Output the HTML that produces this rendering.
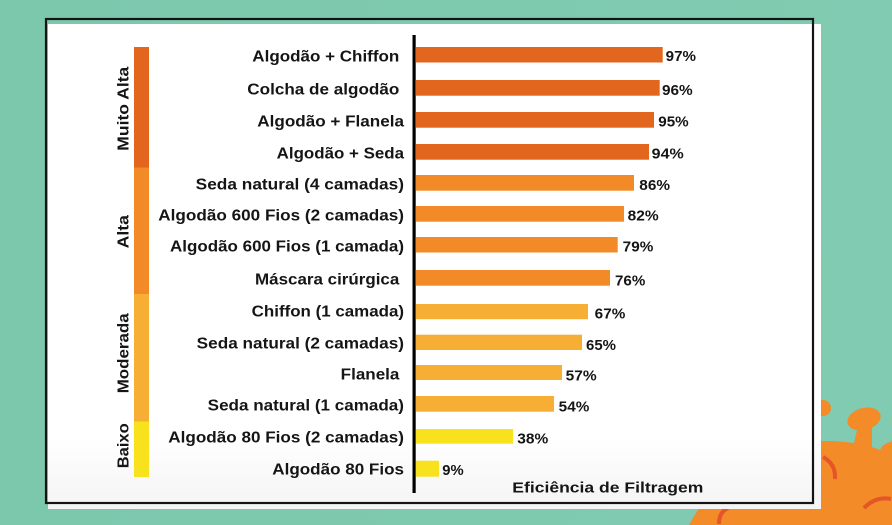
<!DOCTYPE html>
<html>
<head>
<meta charset="utf-8">
<style>
html,body{margin:0;padding:0;background:#7dc9ae;width:892px;height:525px;overflow:hidden;}
svg{display:block;}
text{font-family:"Liberation Sans",sans-serif;font-weight:700;fill:#151515;}
</style>
</head>
<body>
<svg width="892" height="525" viewBox="0 0 892 525" xmlns="http://www.w3.org/2000/svg">
  <defs>
    <linearGradient id="bg" x1="0" y1="0" x2="1" y2="0">
      <stop offset="0" stop-color="#7cc8ad"/>
      <stop offset="1" stop-color="#80cbb1"/>
    </linearGradient>
    <linearGradient id="panel" x1="0" y1="0" x2="0" y2="1">
      <stop offset="0" stop-color="#ffffff"/>
      <stop offset="0.85" stop-color="#ffffff"/>
      <stop offset="1" stop-color="#f4f4f4"/>
    </linearGradient>
  </defs>
  <rect x="0" y="0" width="892" height="525" fill="url(#bg)"/>

  <!-- virus decoration (kept inside frame) -->
  <g fill="#f28b28">
    <path d="M689,525 A157,157 0 0 1 892,454.6 L892,525 Z"/>
    <circle cx="823" cy="408" r="8"/>
    <polygon points="852,452 872,452 872,426 858,426"/>
    <ellipse cx="864" cy="419" rx="17" ry="11" transform="rotate(-15 864 419)"/>
    <polygon points="870,470 892,440 892,470"/>
    <path d="M892,442 A13,13 0 0 0 892,468 Z"/>
    <path d="M705,525 A17,17 0 0 1 739,525 Z"/>
  </g>
  <g fill="none" stroke="#e4552a" stroke-width="4" stroke-linecap="butt">
    <path d="M823,457 Q836,464 835,479"/>
    <path d="M864,508 Q876,496 891,499"/>
    <path d="M719,524 Q719,512 728,508"/>
  </g>

  <!-- white panel + frame -->
  <rect x="48" y="24" width="773" height="485" fill="url(#panel)"/>
  <rect x="46" y="19" width="767" height="484" fill="none" stroke="#141414" stroke-width="2.2"/>

  <!-- category strip -->
  <rect x="134" y="47" width="15" height="120.5" fill="#e2661e"/>
  <rect x="134" y="167.5" width="15" height="126.5" fill="#f28a28"/>
  <rect x="134" y="294" width="15" height="127.5" fill="#f6ae35"/>
  <rect x="134" y="421.5" width="15" height="55.5" fill="#f8e21e"/>

  <!-- rotated group labels -->
  <g font-size="16">
    <text transform="translate(128.3,108.7) rotate(-90)" x="-42" y="0" textLength="84" lengthAdjust="spacingAndGlyphs">Muito Alta</text>
    <text transform="translate(128.3,231.7) rotate(-90)" x="-16.7" y="0" textLength="33.3" lengthAdjust="spacingAndGlyphs">Alta</text>
    <text transform="translate(128.3,353.3) rotate(-90)" x="-40" y="0" textLength="80" lengthAdjust="spacingAndGlyphs">Moderada</text>
    <text transform="translate(128.3,445.8) rotate(-90)" x="-22.5" y="0" textLength="45" lengthAdjust="spacingAndGlyphs">Baixo</text>
  </g>

  <!-- bars -->
  <g>
    <rect x="416" y="47" width="246.7" height="15.5" fill="#e2661e"/>
    <rect x="416" y="80" width="243.7" height="15.7" fill="#e2661e"/>
    <rect x="416" y="112" width="238" height="15.7" fill="#e2661e"/>
    <rect x="416" y="144" width="233" height="15.7" fill="#e2661e"/>
    <rect x="416" y="175" width="218" height="15.7" fill="#f28a28"/>
    <rect x="416" y="206" width="208" height="15.7" fill="#f28a28"/>
    <rect x="416" y="237" width="201.7" height="15.5" fill="#f28a28"/>
    <rect x="416" y="270" width="194" height="15.7" fill="#f28a28"/>
    <rect x="416" y="304" width="172" height="15.2" fill="#f6ae35"/>
    <rect x="416" y="334.7" width="166" height="15.3" fill="#f6ae35"/>
    <rect x="416" y="365" width="146" height="15" fill="#f6ae35"/>
    <rect x="416" y="396" width="138" height="15.7" fill="#f6ae35"/>
    <rect x="416" y="429" width="97" height="14.7" fill="#f8e21e"/>
    <rect x="416" y="460.7" width="23" height="16" fill="#f8e21e"/>
  </g>

  <!-- axis line -->
  <rect x="412.5" y="35" width="3.2" height="458" fill="#000"/>

  <!-- category labels -->
  <g font-size="16">
    <text x="252.3" y="61.5" textLength="147" lengthAdjust="spacingAndGlyphs">Algodão + Chiffon</text>
    <text x="247.3" y="94.5" textLength="152" lengthAdjust="spacingAndGlyphs">Colcha de algodão</text>
    <text x="257.3" y="126.5" textLength="146.7" lengthAdjust="spacingAndGlyphs">Algodão + Flanela</text>
    <text x="276.7" y="158.5" textLength="127.3" lengthAdjust="spacingAndGlyphs">Algodão + Seda</text>
    <text x="195.7" y="189.5" textLength="208.3" lengthAdjust="spacingAndGlyphs">Seda natural (4 camadas)</text>
    <text x="158.3" y="220.5" textLength="245.7" lengthAdjust="spacingAndGlyphs">Algodão 600 Fios (2 camadas)</text>
    <text x="170" y="251.3" textLength="234" lengthAdjust="spacingAndGlyphs">Algodão 600 Fios (1 camada)</text>
    <text x="255" y="284.7" textLength="144.3" lengthAdjust="spacingAndGlyphs">Máscara cirúrgica</text>
    <text x="251.7" y="316.5" textLength="152.3" lengthAdjust="spacingAndGlyphs">Chiffon (1 camada)</text>
    <text x="196.7" y="348.5" textLength="207.3" lengthAdjust="spacingAndGlyphs">Seda natural (2 camadas)</text>
    <text x="340.7" y="379.5" textLength="58.7" lengthAdjust="spacingAndGlyphs">Flanela</text>
    <text x="207.7" y="410.7" textLength="196.3" lengthAdjust="spacingAndGlyphs">Seda natural (1 camada)</text>
    <text x="168.3" y="442.7" textLength="235.7" lengthAdjust="spacingAndGlyphs">Algodão 80 Fios (2 camadas)</text>
    <text x="272.3" y="474.5" textLength="131.7" lengthAdjust="spacingAndGlyphs">Algodão 80 Fios</text>
  </g>

  <!-- value labels -->
  <g font-size="15">
    <text x="665.7" y="61" textLength="30.3" lengthAdjust="spacingAndGlyphs">97%</text>
    <text x="662" y="95" textLength="30.7" lengthAdjust="spacingAndGlyphs">96%</text>
    <text x="658.3" y="126.7" textLength="30.4" lengthAdjust="spacingAndGlyphs">95%</text>
    <text x="651.7" y="158.3" textLength="32" lengthAdjust="spacingAndGlyphs">94%</text>
    <text x="639.3" y="190" textLength="30.7" lengthAdjust="spacingAndGlyphs">86%</text>
    <text x="627.7" y="220.7" textLength="31" lengthAdjust="spacingAndGlyphs">82%</text>
    <text x="622.7" y="251.7" textLength="30.6" lengthAdjust="spacingAndGlyphs">79%</text>
    <text x="615" y="285.7" textLength="30.3" lengthAdjust="spacingAndGlyphs">76%</text>
    <text x="594.7" y="318.3" textLength="30.6" lengthAdjust="spacingAndGlyphs">67%</text>
    <text x="586" y="350" textLength="30" lengthAdjust="spacingAndGlyphs">65%</text>
    <text x="565.7" y="380.7" textLength="31" lengthAdjust="spacingAndGlyphs">57%</text>
    <text x="558.7" y="411.7" textLength="30.6" lengthAdjust="spacingAndGlyphs">54%</text>
    <text x="517.3" y="443.3" textLength="31" lengthAdjust="spacingAndGlyphs">38%</text>
    <text x="442.3" y="475" textLength="21.4" lengthAdjust="spacingAndGlyphs">9%</text>
  </g>

  <!-- axis title -->
  <text x="512.3" y="492.5" font-size="15" textLength="191" lengthAdjust="spacingAndGlyphs">Eficiência de Filtragem</text>
</svg>
</body>
</html>
